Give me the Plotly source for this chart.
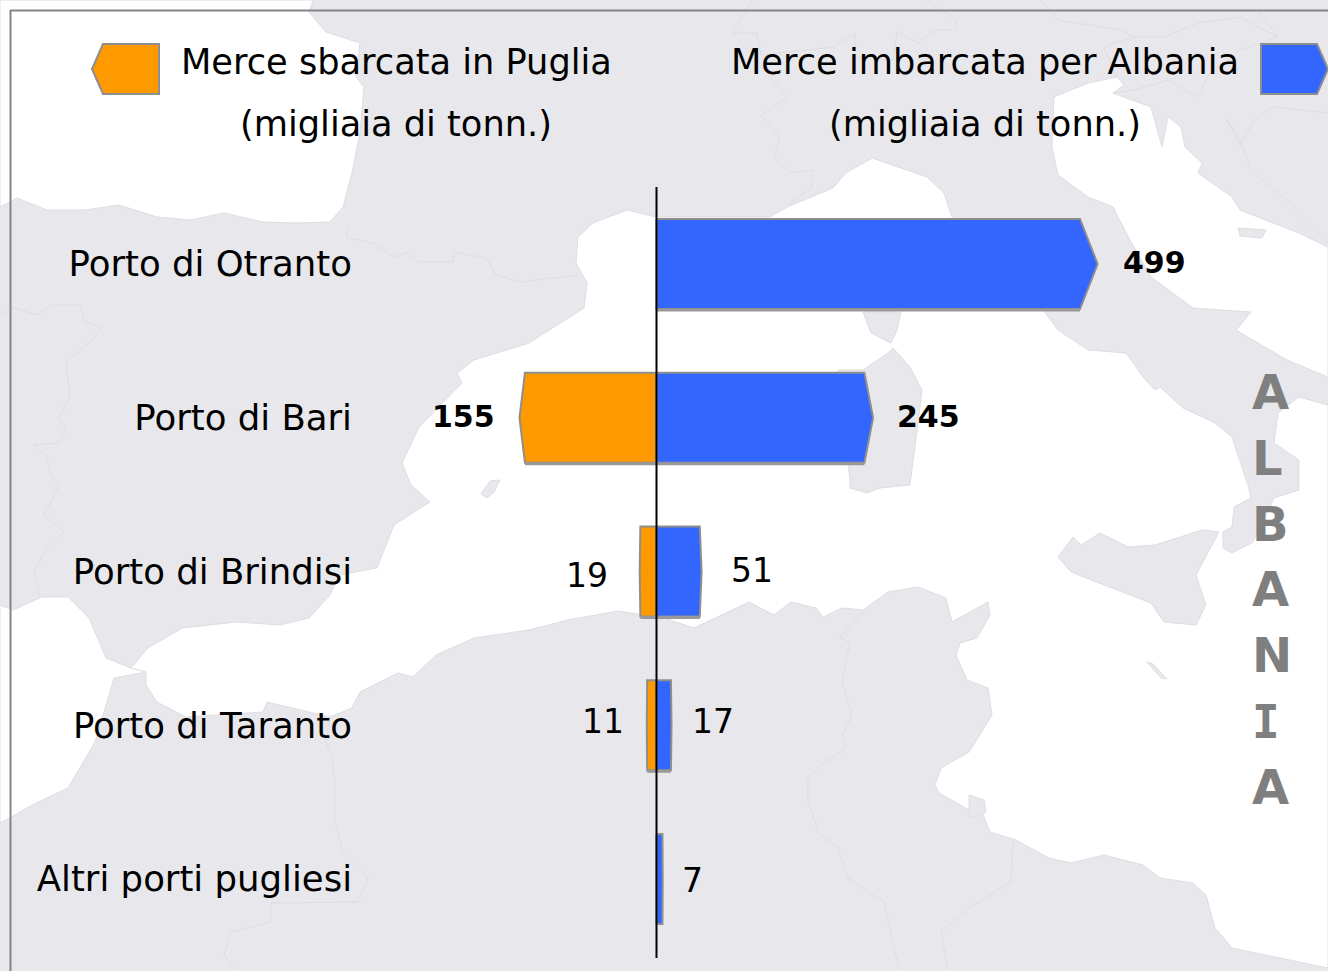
import plotly.graph_objects as go

W, H = 1328, 971

# ---------- data ----------
ports = ["Porto di Otranto", "Porto di Bari", "Porto di Brindisi", "Porto di Taranto", "Altri porti pugliesi"]
sbarcata = [0, 155, 19, 11, 0]
imbarcata = [499, 245, 51, 17, 7]
legend_left = ["Merce sbarcata in Puglia", "(migliaia di tonn.)"]
legend_right = ["Merce imbarcata per Albania", "(migliaia di tonn.)"]
side_letters = list("ALBANIA")

# ---------- style ----------
LAND, BORDER, EDGE = "#e8e7ec", "#dedde2", "#8e8e8e"
ORANGE, BLUE = "#ff9900", "#3366ff"
SANS = "DejaVu Sans"
X0, PX_PER_UNIT = 656.5, 0.884
Y0, ROW = 264.0, 153.75
TIP = 0.04
HALF = 45 / ROW

# ---------- backdrop map outlines, in page pixels (decoration only) ----------
sea_nw = [(0,0),(313,0),(309,12),(326,32),(360,43),(356,77),(364,87),(360,133),(352,173),(343,207),(330,222),
          (296,223),(263,222),(224,213),(191,220),(157,217),(119,205),(85,210),(47,210),(17,198),(0,207)]
sea_sw = [(0,605),(13,610),(42,597),(68,597),(89,618),(106,658),(131,668),(146,672),(114,678),(112,685),
          (95,742),(68,788),(38,802),(0,823)]
sea_med = [(402,463),(419,427),(462,383),(457,373),(474,360),(529,343),(584,308),(587,283),(576,263),(578,237),
           (593,223),(627,210),(656,217),(770,217),(787,207),(833,188),(846,173),(872,158),(927,177),(944,193),
           (952,217),(1043,310),(1058,330),(1088,350),(1126,353),(1143,377),(1155,390),(1160,387),(1183,408),
           (1215,423),(1232,437),(1248,485),(1251,498),(1234,507),(1232,527),(1223,532),(1223,548),(1232,553),
           (1253,542),(1274,498),(1299,490),(1299,460),(1274,443),(1278,413),(1299,397),(1328,405),(1328,968),
           (1299,962),(1232,948),(1215,928),(1206,895),(1193,883),(1160,878),(1143,865),(1104,855),(1071,863),
           (1049,858),(1016,840),(990,832),(982,812),(969,810),(939,793),(935,785),(941,768),(969,752),(992,715),
           (988,688),(967,680),(956,655),(960,643),(977,638),(990,615),(988,602),(952,622),(946,598),(918,587),
           (888,592),(863,610),(842,608),(823,617),(816,608),(791,602),(774,615),(749,602),(694,628),(664,618),
           (618,611),(568,620),(529,630),(474,638),(436,655),(413,677),(398,673),(360,692),(352,708),(330,717),
           (267,702),(263,712),(186,717),(157,702),(146,685),(146,672),(131,668),(148,648),(182,628),(237,622),
           (280,625),(309,618),(330,595),(339,575),(377,568),(381,558),(394,525),(430,502),(411,485)]
sea_adriatic = [(1328,377),(1287,360),(1236,330),(1251,312),(1193,308),(1151,277),(1130,240),(1113,207),(1088,197),
                (1058,175),(1052,147),(1054,97),(1088,83),(1117,77),(1124,85),(1113,93),(1151,107),(1162,147),
                (1168,117),(1181,127),(1185,147),(1202,163),(1198,173),(1232,197),(1240,210),(1299,233),(1328,247)]
islands = [
    [(863,312),(901,312),(897,330),(891,343),(871,333),(866,320)],
    [(893,348),(910,367),(922,390),(918,423),(910,485),(880,488),(867,493),(850,488),(850,480),(838,370),(863,370),(888,353)],
    [(1073,537),(1081,545),(1100,533),(1128,547),(1155,545),(1202,530),(1219,532),(1196,575),(1206,605),(1196,625),
     (1164,622),(1151,603),(1104,585),(1071,572),(1058,557)],
    [(481,494),(490,481),(500,480),(494,492),(487,498)],
    [(1147,662),(1153,664),(1167,679),(1161,678)],
    [(969,795),(984,800),(986,812),(969,818)],
    [(1238,228),(1266,230),(1262,238),(1240,236)],
]
borders = [
    [(347,227),(347,238),(373,243),(394,257),(407,253),(419,262),(453,262),(453,252),(487,258),(496,275),(521,282),(551,278),(580,275)],
    [(0,315),(13,308),(38,315),(51,305),(80,305),(85,322),(102,328),(89,343),(66,362),(70,397),(59,417),(66,430),(59,443),
     (34,445),(47,457),(51,477),(59,485),(44,515),(64,533),(47,548),(34,572),(40,595)],
    [(753,0),(732,33),(770,77),(787,97),(761,115),(780,137),(774,157),(791,173),(812,170),(812,187),(787,207)],
    [(732,33),(757,33),(761,55),(833,47),(855,33),(855,57),(893,60),(897,32),(918,43),(935,30),(956,30),(956,20),(927,0)],
    [(1041,0),(1058,20),(1121,30),(1134,37),(1113,43),(1104,48),(1117,77)],
    [(1113,93),(1134,90),(1168,80),(1198,97),(1210,73),(1240,50),(1278,37),(1257,10)],
    [(1134,37),(1164,37),(1198,23),(1240,17),(1278,37)],
    [(1227,120),(1240,140),(1251,170),(1287,200),(1328,243)],
    [(1227,120),(1240,145),(1257,117),(1274,107),(1328,113)],
    [(330,717),(326,742),(332,757),(335,785),(335,822),(343,852),(368,878),(358,902),(271,903),(271,922),(231,932),(224,955),(235,970)],
    [(863,612),(840,638),(850,642),(842,682),(852,715),(842,735),(846,748),(821,765),(808,778),(808,802),(819,833),(838,848),(848,878),(884,902),(899,970)],
    [(1013,840),(1011,882),(969,908),(941,932),(948,970)],
]

def path(pts, close=True):
    d = "M" + " L".join(f"{x/W:.5f},{1-y/H:.5f}" for x, y in pts)
    return d + (" Z" if close else "")

shapes = []
for poly in (sea_nw, sea_sw, sea_med, sea_adriatic):
    shapes.append(dict(type="path", xref="paper", yref="paper", path=path(poly), fillcolor="white",
                       line=dict(color=BORDER, width=1), layer="below"))
for poly in islands:
    shapes.append(dict(type="path", xref="paper", yref="paper", path=path(poly), fillcolor=LAND,
                       line=dict(color=BORDER, width=1), layer="below"))
for line in borders:
    shapes.append(dict(type="path", xref="paper", yref="paper", path=path(line, False),
                       line=dict(color=BORDER, width=1), layer="below"))

# frame (cropped at right and bottom by the page)
for pts in ([(10, 10.5), (1328, 10.5)], [(10.5, 10), (10.5, 971)]):
    shapes.append(dict(type="path", xref="paper", yref="paper", path=path(pts, False),
                       line=dict(color="#858585", width=2), layer="below"))

# legend arrows
legend_l = [(103,44),(159,44),(159,94),(103,94),(92,69)]
legend_r = [(1261,44),(1317,44),(1328,69),(1317,94),(1261,94)]
for poly, col in ((legend_l, ORANGE), (legend_r, BLUE)):
    shapes.append(dict(type="path", xref="paper", yref="paper", path=path(poly), fillcolor=col,
                       line=dict(color=EDGE, width=2), layer="above"))

# central axis
shapes.append(dict(type="line", xref="x", x0=0, x1=0, yref="paper", y0=1-958/H, y1=1-187/H,
                   line=dict(color="black", width=2), layer="above"))

def arrows(values, sign):
    xs, ys = [], []
    for i, v in enumerate(values):
        if not v:
            continue
        s = sign * v
        xs += [0, s*(1-TIP), s, s*(1-TIP), 0, 0, None]
        ys += [i-HALF, i-HALF, i, i+HALF, i+HALF, i-HALF, None]
    return xs, ys

def undersides(values, sign):
    xs, ys = [], []
    for i, v in enumerate(values):
        if not v or v < 10:
            continue
        xs += [0, sign*v*(1-TIP), None]
        ys += [i+HALF+1/ROW, i+HALF+1/ROW, None]
    return xs, ys

fig = go.Figure()
for vals, sign, col in ((sbarcata, -1, ORANGE), (imbarcata, 1, BLUE)):
    xs, ys = arrows(vals, sign)
    fig.add_trace(go.Scatter(x=xs, y=ys, mode="lines", fill="toself", fillcolor=col,
                             line=dict(color=EDGE, width=2), hoverinfo="skip", showlegend=False))
    xs, ys = undersides(vals, sign)
    fig.add_trace(go.Scatter(x=xs, y=ys, mode="lines", line=dict(color="#999999", width=3),
                             hoverinfo="skip", showlegend=False))

annotations = []
def page_text(text, x, y, size, color="black", bold=False, anchor="center", family=SANS):
    annotations.append(dict(text=f"<b>{text}</b>" if bold else text, xref="paper", yref="paper", x=x/W, y=1-y/H,
                            xanchor=anchor, yanchor="middle", showarrow=False,
                            font=dict(family=family, size=size, color=color)))

for i, t in enumerate(legend_left):
    page_text(t, 396, 61 + 62*i, 35.2)
for i, t in enumerate(legend_right):
    page_text(t, 985, 61 + 62*i, 35.2)
for i, ch in enumerate(side_letters):
    if ch == "I":
        page_text(ch, 1266, 393 + 65.8*i, 46, color="#7f7f7f", bold=True, family="DejaVu Sans Mono")
    else:
        page_text(ch, 1250, 392 + 65.8*i, 48, color="#7f7f7f", bold=True, anchor="left")

# value labels
gap_r = [23, 22, 27, 18, 17]
lift_r = [2, 1, 1, 4, -1]
gap_l = [0, 22, 30, 21, 0]
lift_l = [0, 1, -4, 4, 0]
heavy = [True, True, False, False, False]
def value_font(i):
    return dict(family=SANS, size=30 if heavy[i] else 33, color="black")
def value_text(v, i):
    return f"<b>{v}</b>" if heavy[i] else str(v)

for i, v in enumerate(imbarcata):
    annotations.append(dict(text=value_text(v, i), x=v, y=i, xref="x", yref="y", xanchor="left", yanchor="middle",
                            xshift=gap_r[i], yshift=lift_r[i], showarrow=False, font=value_font(i)))
for i, v in enumerate(sbarcata):
    if v:
        annotations.append(dict(text=value_text(v, i), x=-v, y=i, xref="x", yref="y", xanchor="right", yanchor="middle",
                                xshift=-gap_l[i], yshift=lift_l[i], showarrow=False, font=value_font(i)))

fig.update_layout(
    width=W, height=H, margin=dict(l=0, r=0, t=0, b=0), showlegend=False,
    paper_bgcolor=LAND, plot_bgcolor="rgba(0,0,0,0)",
    shapes=shapes, annotations=annotations,
    xaxis=dict(range=[-X0/PX_PER_UNIT, (W-X0)/PX_PER_UNIT], domain=[0, 1], visible=False, fixedrange=True),
    yaxis=dict(range=[(H-Y0)/ROW, -Y0/ROW], domain=[0, 1], anchor="free", position=352/W, side="left",
               tickmode="array", tickvals=list(range(len(ports))), ticktext=ports,
               showgrid=False, zeroline=False, showline=False, ticks="",
               tickfont=dict(family=SANS, size=35.5, color="black"), fixedrange=True),
)

fig.write_html("out.html", config=dict(displayModeBar=False),
               post_script="document.body.style.margin='0';document.body.style.overflow='hidden';")
